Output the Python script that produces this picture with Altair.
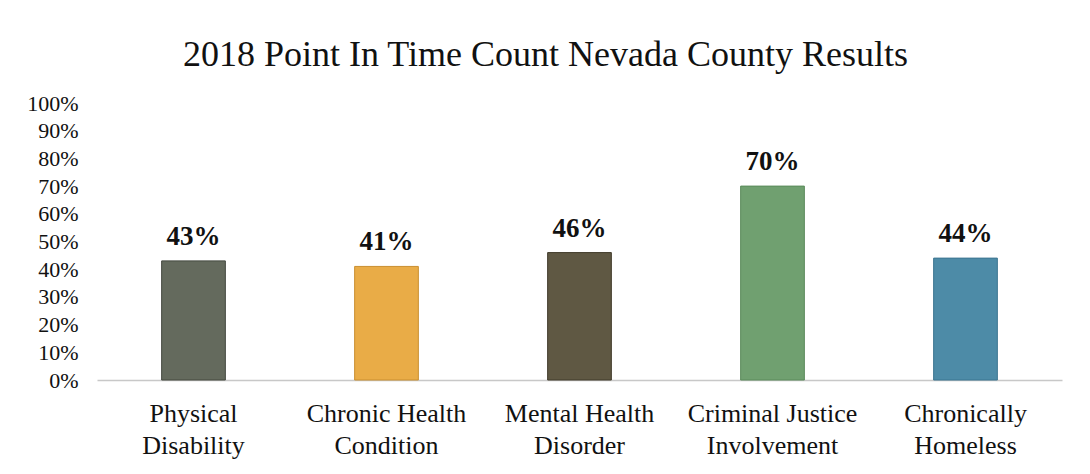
import altair as alt
import pandas as pd

categories = ["Physical\nDisability", "Chronic Health\nCondition", "Mental Health\nDisorder",
              "Criminal Justice\nInvolvement", "Chronically\nHomeless"]
values = [43, 41, 46, 70, 44]
colors = ["#646a5d", "#e9ac47", "#5f5843", "#70a070", "#4d8ba7"]
strokes = ["#44483f", "#c98f30", "#403a2a", "#5a8a5a", "#3b7590"]

df = pd.DataFrame({"cat": categories, "val": values, "color": colors, "stroke": strokes,
                   "lab": [f"{v}%" for v in values]})

FONT = "Liberation Serif"

x = alt.X("cat:N", sort=categories, title=None,
          scale=alt.Scale(paddingInner=0.67, paddingOuter=0.335),
          axis=alt.Axis(labelExpr="split(datum.label, '\\n')", labelAngle=0,
                        labelFont=FONT, labelFontSize=26, labelColor="#111111",
                        labelLineHeight=32, labelPadding=20, labelBaseline="top",
                        ticks=False, domainColor="#c8c8c8", domainWidth=1.5, grid=False))
y = alt.Y("val:Q", title=None,
          scale=alt.Scale(domain=[0, 100]),
          axis=alt.Axis(values=list(range(0, 101, 10)), labelExpr="datum.value + '%'",
                        labelFont=FONT, labelFontSize=22, labelColor="#111111",
                        labelOverlap=False, labelBound=False,
                        labelPadding=19, ticks=False, domain=False, grid=False))

base = alt.Chart(df).encode(x=x, y=y)

bars = base.mark_bar(strokeWidth=1).encode(
    color=alt.Color("color:N", scale=None),
    stroke=alt.Stroke("stroke:N", scale=None),
)
text = base.mark_text(font=FONT, fontSize=27, fontWeight="bold", baseline="alphabetic",
                      dy=-16, color="#111111").encode(text="lab:N")

chart = alt.layer(bars, text).properties(
    width=965, height=277,
    view=alt.ViewBackground(stroke="transparent", strokeWidth=0),
    autosize=alt.AutoSizeParams(type="none"),
    padding={"left": 89, "top": 95, "right": 20, "bottom": 86},
    title=alt.TitleParams("2018 Point In Time Count Nevada County Results", font=FONT,
                          fontSize=36, fontWeight="normal", color="#111111",
                          anchor="middle", dx=-34, offset=18),
).configure_view(stroke="transparent", strokeWidth=0).configure_axis(grid=False).configure(background="white")

chart.save("out.html", embed_options={"renderer": "svg", "actions": False})
